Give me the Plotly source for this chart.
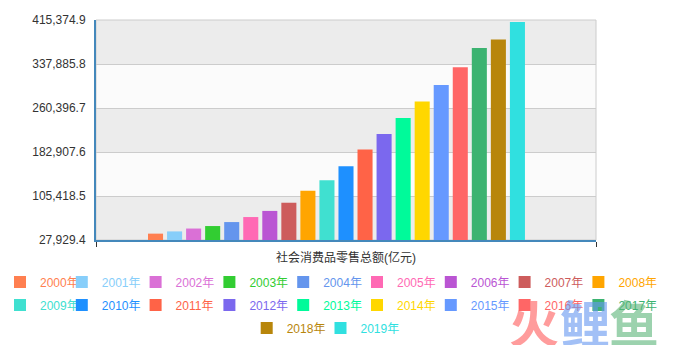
import plotly.graph_objects as go

category = ["社会消费品零售总额(亿元)"]
years = ["2000年", "2001年", "2002年", "2003年", "2004年", "2005年", "2006年", "2007年",
         "2008年", "2009年", "2010年", "2011年", "2012年", "2013年", "2014年", "2015年",
         "2016年", "2017年", "2018年", "2019年"]
values = [39105.7, 43055.4, 48135.9, 52516.3, 59501.0, 68352.6, 79145.2, 93571.6,
          114830.1, 133048.2, 158008.0, 187205.8, 214432.7, 242842.8, 271896.1, 300930.8,
          332316.3, 366261.6, 380986.9, 411649.0]
colors = ["#ff7f50", "#87cefa", "#da70d6", "#32cd32", "#6495ed", "#ff69b4", "#ba55d3", "#cd5c5c",
          "#ffa500", "#40e0d0", "#1e90ff", "#ff6347", "#7b68ee", "#00fa9a", "#ffd700", "#6699ff",
          "#ff6666", "#3cb371", "#b8860b", "#30e0e0"]
y_ticks = [27929.4, 105418.5, 182907.6, 260396.7, 337885.8, 415374.9]

FONT = "Liberation Sans, Arial, Noto Sans CJK SC, sans-serif"
W, H = 681, 345

# legend layout (pixel positions of each legend entry's text start and row centre)
ROW_Y = [282, 305, 328]
ROW_X0 = [34, 34, 292.7]
PITCH = 73.8

fig = go.Figure()
legends = {}
for i, (yr, v, c) in enumerate(zip(years, values, colors)):
    row, col = (0, i) if i < 9 else ((1, i - 9) if i < 18 else (2, i - 18))
    lid = "legend" if i == 0 else f"legend{i + 1}"
    fig.add_trace(go.Bar(
        x=category, y=[v], name=f'<span style="color:{c}">{yr}</span>',
        marker=dict(color=c, line=dict(width=0)), legend=lid,
    ))
    tx = ROW_X0[row] + PITCH * col
    legends[lid] = dict(orientation="h", xanchor="left", yanchor="middle",
                        xref="container", yref="container",
                        x=(tx - 46) / W, y=1 - ROW_Y[row] / H,
                        font=dict(family=FONT, size=12), bgcolor="rgba(0,0,0,0)",
                        itemclick=False, itemdoubleclick=False)
# empty slot kept by the original layout (bars group sits left of centre)
fig.add_trace(go.Bar(x=category, y=[None], showlegend=False, hoverinfo="skip"))

shapes = []
for k in range(len(y_ticks) - 1):
    shapes.append(dict(type="rect", xref="paper", yref="y", x0=0, x1=1,
                       y0=y_ticks[k], y1=y_ticks[k + 1], layer="below", line=dict(width=0),
                       fillcolor="#ececec" if k % 2 == 0 else "#fbfbfb"))
shapes.append(dict(type="rect", xref="paper", yref="paper", x0=0, x1=1, y0=0, y1=1,
                   layer="below", line=dict(color="#cccccc", width=1), fillcolor="rgba(0,0,0,0)"))

wm = [("火", "rgba(255,90,90,0.6)", 536), ("鲤", "rgba(100,150,240,0.6)", 587),
      ("鱼", "rgba(90,180,120,0.6)", 636)]
annotations = []
for ch, col, px in wm:
    annotations.append(dict(text=f"<b>{ch}</b>", x=(px + 25 - 96) / 500, y=(240 - 323 - 36) / 220,
                            xref="paper", yref="paper", showarrow=False,
                            font=dict(family="Noto Sans CJK SC", size=50, color=col)))

fig.update_layout(
    width=W, height=H,
    margin=dict(l=96, r=85, t=20, b=105, autoexpand=False),
    paper_bgcolor="white", plot_bgcolor="white",
    barmode="group", bargap=0.2, bargroupgap=0.21,
    font=dict(family=FONT, size=12, color="#333333"),
    shapes=shapes, annotations=annotations,
    xaxis=dict(type="category", range=[-0.5, 0.5], showline=True, linecolor="#4488bb",
               linewidth=2, ticks="outside", tickson="boundaries", ticklen=5,
               tickcolor="#333333", tickfont=dict(size=12, color="#333333"), showgrid=False,
               ticklabelstandoff=6, automargin=False, fixedrange=True),
    yaxis=dict(range=[y_ticks[0], y_ticks[-1]], tickvals=y_ticks,
               ticktext=[f"{v:,.1f}" for v in y_ticks], showline=True, linecolor="#4488bb",
               linewidth=2, showgrid=True, gridcolor="#cccccc", gridwidth=1, zeroline=False,
               ticks="", ticklabelstandoff=6, tickfont=dict(size=12, color="#333333"),
               automargin=False, fixedrange=True),
    showlegend=True,
    **legends,
)

fig.write_html("out.html")
